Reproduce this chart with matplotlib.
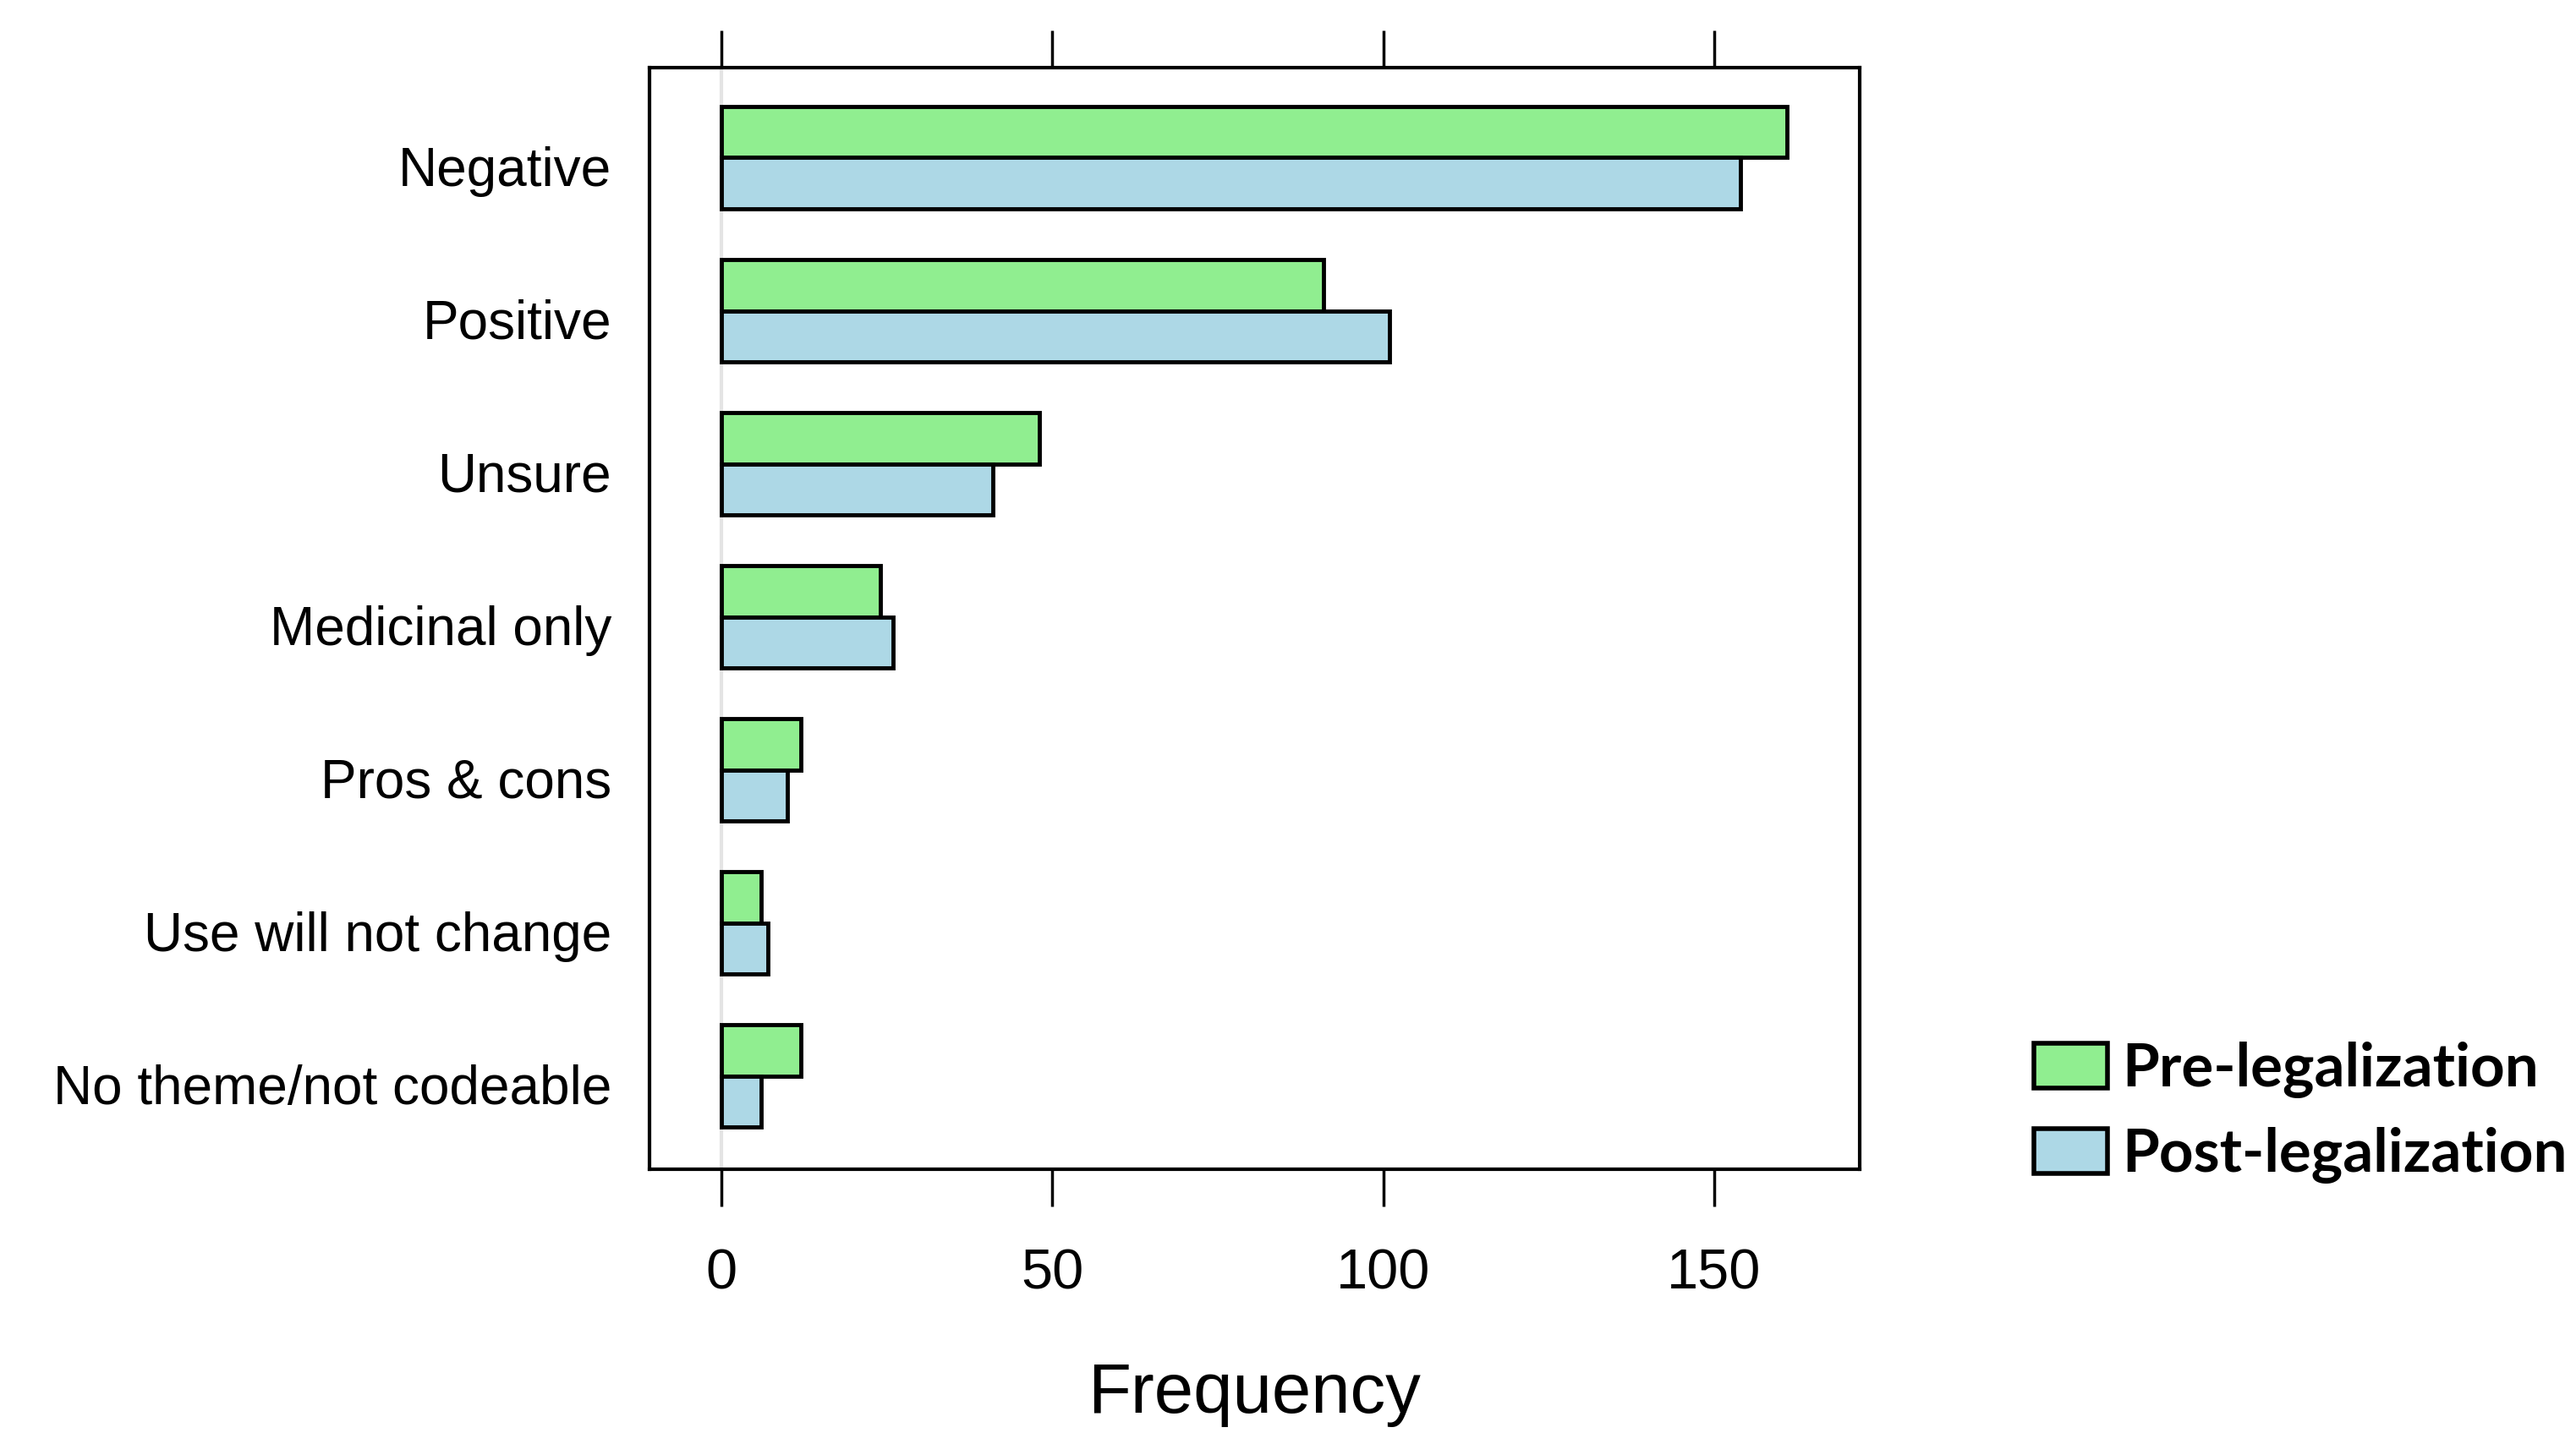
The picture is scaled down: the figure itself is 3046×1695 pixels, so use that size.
"""
Attitude themes before/after legalization — horizontal grouped bar chart.
"""

import numpy as np
import matplotlib
matplotlib.use("Agg")
import matplotlib.pyplot as plt
import matplotlib.patches as patches
from matplotlib.transforms import ScaledTranslation

# data, top row first
categories = ["Negative", "Positive", "Unsure", "Medicinal only",
              "Pros & cons", "Use will not change", "No theme/not codeable"]
pre_legal = [161, 91, 48, 24, 12, 6, 12]
post_legal = [154, 101, 41, 26, 10, 7, 6]
series_names = ["Pre-legalization", "Post-legalization"]
x_ticks = [0, 50, 100, 150]

GREEN = "#90ee90"
BLUE = "#add8e6"
SANS = ["Liberation Sans", "DejaVu Sans"]

fig = plt.figure(figsize=(30.46, 16.95), dpi=100)
ax = fig.add_axes([0.252, 0.184, 0.470, 0.769])

n = len(categories)
ypos = np.arange(n)[::-1]          # Negative at top
h = 0.335

ax.axvline(0, color="#e4e4e4", lw=3, zorder=0)
ax.barh(ypos + h / 2, pre_legal, height=h, color=GREEN,
        edgecolor="black", linewidth=3.5, zorder=2)
ax.barh(ypos - h / 2, post_legal, height=h, color=BLUE,
        edgecolor="black", linewidth=3.5, zorder=2)

ax.set_xlim(-10.9, 172)
ax.set_ylim(-0.61, n - 1 + 0.59)

ax.set_yticks(ypos)
ax.set_yticklabels(categories, fontsize=46, family=SANS)
ax.tick_params(axis="y", length=0, pad=32)
shift = ScaledTranslation(0, -7 / 72, fig.dpi_scale_trans)
for lab in ax.get_yticklabels():
    lab.set_transform(lab.get_transform() + shift)

ax.set_xticks(x_ticks)
ax.set_xticklabels([str(t) for t in x_ticks], fontsize=48, family=SANS)
ax.tick_params(axis="x", top=True, bottom=True, direction="out",
               length=32, width=2.5, pad=35)

for sp in ax.spines.values():
    sp.set_linewidth(3)

ax.set_xlabel("Frequency", fontsize=60, family=SANS, labelpad=52)

handles = [patches.Patch(facecolor=GREEN, edgecolor="black", linewidth=4),
           patches.Patch(facecolor=BLUE, edgecolor="black", linewidth=4)]
fig.legend(handles, series_names, loc="center left",
           bbox_to_anchor=(0.7895, 0.2236), frameon=False,
           prop={"family": ["Lato", "DejaVu Sans"], "weight": "bold", "size": 51},
           handlelength=1.23, handleheight=0.79, handletextpad=0.25,
           labelspacing=0.48, borderaxespad=0, borderpad=0)

fig.savefig("out.png", dpi=100)
